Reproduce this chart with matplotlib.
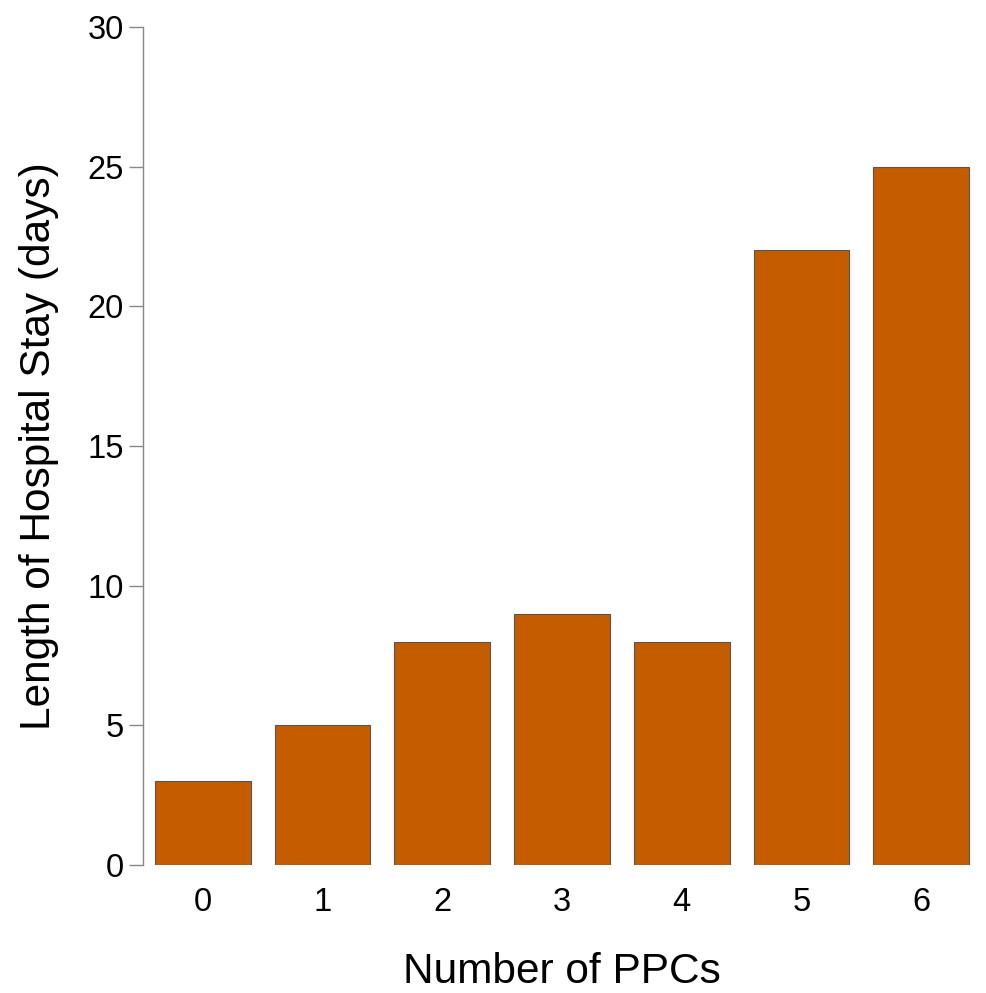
import matplotlib
matplotlib.use("Agg")
import matplotlib.pyplot as plt

categories = ["0", "1", "2", "3", "4", "5", "6"]
values = [3, 5, 8, 9, 8, 22, 25]
yticks = [0, 5, 10, 15, 20, 25, 30]

plt.rcParams['font.family'] = ['Liberation Sans', 'DejaVu Sans']

fig = plt.figure(figsize=(9.86, 9.93), dpi=100)
ax = fig.add_axes([143/986, 1-865/993, (981-143)/986, (865-27)/993])
x = list(range(len(categories)))
ax.bar(x, values, width=0.8, color="#C55C00", edgecolor="#555555", linewidth=0.8)
ax.set_xlim(-0.5, 6.5)
ax.set_ylim(0, 30)
ax.set_yticks(yticks)
ax.set_xticks(x)
ax.set_xticklabels(categories)
for s in ["top", "right", "bottom"]:
    ax.spines[s].set_visible(False)
ax.spines["left"].set_color("#888888")
ax.spines["left"].set_linewidth(1.0)
ax.tick_params(axis="y", length=10, width=1.0, color="#888888", labelsize=23.5, pad=4)
ax.tick_params(axis="x", length=0, labelsize=23.5, pad=16)
ax.set_ylabel("Length of Hospital Stay (days)", fontsize=30.5, labelpad=20)
ax.set_xlabel("Number of PPCs", fontsize=30.5, labelpad=24)
fig.savefig("out.png", dpi=100)
